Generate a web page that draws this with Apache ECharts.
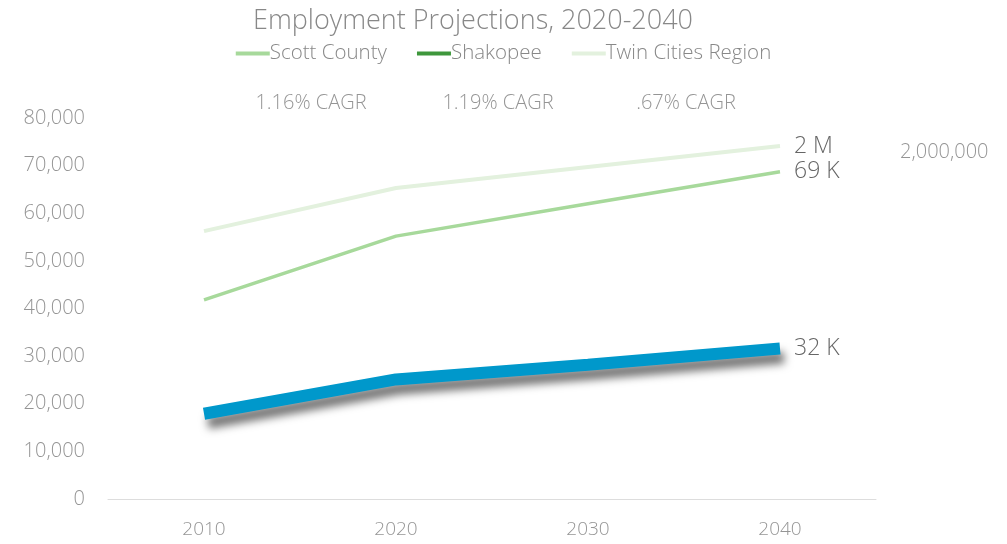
<!DOCTYPE html>
<html>
<head>
<meta charset="utf-8">
<script src="https://cdn.jsdelivr.net/npm/echarts@6/dist/echarts.min.js"></script>
<style>
  html, body { margin: 0; padding: 0; background: #fff; }
  #chart { width: 1007px; height: 544px; }
</style>
</head>
<body>
<div id="chart"></div>
<script>
// data
const years = ['2010', '2020', '2030', '2040']
const scottCounty = [41800, 55200, 62000, 68700]
const shakopee = [17900, 25100, 28200, 31600]
const twinCities = [1547000, 1796000, 1917000, 2038000] // right axis
const endLabels = { 'Scott County': '69 K', 'Shakopee': '32 K', 'Twin Cities Region': '2 M' }
const cagrLabels = ['1.16% CAGR', '1.19% CAGR', '.67% CAGR']

const font = '"Open Sans", "Noto Sans", sans-serif'
const grey = '#959595'
const chart = echarts.init(document.getElementById('chart'))

const endLabel = {
  show: true,
  distance: 14,
  fontFamily: font,
  fontWeight: 300,
  fontSize: 23,
  color: '#666',
  formatter: p => endLabels[p.seriesName]
}

chart.setOption({
  animation: false,
  textStyle: { fontFamily: font },
  title: {
    text: 'Employment Projections, 2020-2040',
    left: 468,
    textAlign: 'center',
    top: 3,
    textStyle: { fontFamily: font, fontWeight: 300, fontSize: 27, color: '#888' }
  },
  legend: {
    top: 38,
    left: 'center',
    itemGap: 30,
    itemWidth: 34,
    itemHeight: 4,
    textStyle: { fontFamily: font, fontWeight: 300, fontSize: 20.5, color: '#888', padding: [0, 0, 0, -5] },
    data: [
      { name: 'Scott County', icon: 'rect', itemStyle: { color: '#a7d99b' } },
      { name: 'Shakopee', icon: 'rect', itemStyle: { color: '#3e973c' } },
      { name: 'Twin Cities Region', icon: 'rect', itemStyle: { color: '#e3f1de' } }
    ]
  },
  graphic: cagrLabels.map((t, i) => ({
    type: 'text',
    x: [311, 498, 686][i],
    y: 103,
    style: {
      text: t, fontFamily: font, fontWeight: 300, fontSize: 20, fill: grey,
      align: 'center', verticalAlign: 'middle'
    }
  })),
  grid: { left: 108, right: 131, top: 118, bottom: 45 },
  xAxis: {
    type: 'category',
    data: years,
    axisLine: { lineStyle: { color: '#ddd' } },
    axisTick: { show: false },
    axisLabel: { fontFamily: font, fontWeight: 300, fontSize: 19, color: grey, margin: 21 }
  },
  yAxis: [
    {
      type: 'value',
      min: 0,
      max: 80000,
      interval: 10000,
      splitLine: { show: false },
      axisLabel: {
        fontFamily: font, fontWeight: 300, fontSize: 20, color: grey, margin: 23,
        formatter: v => v.toLocaleString('en-US')
      }
    },
    {
      type: 'value',
      min: 0,
      max: 2200000,
      interval: 1000000,
      splitLine: { show: false },
      axisLine: { show: false },
      axisTick: { show: false },
      axisLabel: {
        fontFamily: font, fontWeight: 300, fontSize: 20, color: grey, margin: 24,
        formatter: v => v === 2000000 ? '2,000,000' : ''
      }
    }
  ],
  series: [
    {
      name: 'Twin Cities Region',
      type: 'line',
      yAxisIndex: 1,
      data: twinCities,
      symbol: 'none',
      itemStyle: { color: '#e3f1de' },
      lineStyle: { color: '#e3f1de', width: 4 },
      endLabel: endLabel
    },
    {
      name: 'Scott County',
      type: 'line',
      data: scottCounty,
      symbol: 'none',
      itemStyle: { color: '#a7d99b' },
      lineStyle: { color: '#a7d99b', width: 3.5 },
      endLabel: endLabel
    },
    {
      name: 'Shakopee',
      type: 'line',
      data: shakopee,
      symbol: 'none',
      itemStyle: { color: '#3e973c' },
      lineStyle: {
        color: '#0098cb',
        width: 12,
        cap: 'butt',
        shadowColor: 'rgba(0,0,0,0.55)',
        shadowBlur: 8,
        shadowOffsetX: 4,
        shadowOffsetY: 9
      },
      endLabel: endLabel
    }
  ]
})
</script>
</body>
</html>
